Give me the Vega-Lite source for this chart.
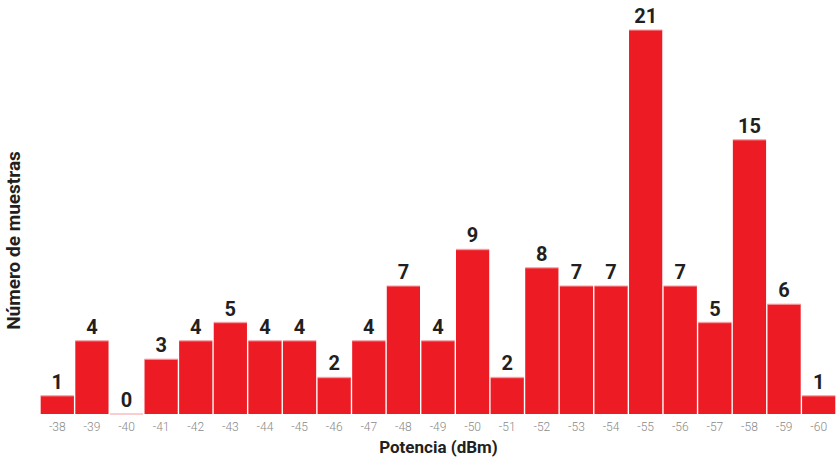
{
  "$schema": "https://vega.github.io/schema/vega-lite/v6.json",
  "autosize": "none",
  "width": 796,
  "height": 384,
  "padding": {"left": 40, "top": 30, "right": 0, "bottom": 54},
  "background": "white",
  "config": {"view": {"stroke": null}},
  "data": {"values": [
    {"dBm": -38, "n": 1}, {"dBm": -39, "n": 4}, {"dBm": -40, "n": 0}, {"dBm": -41, "n": 3},
    {"dBm": -42, "n": 4}, {"dBm": -43, "n": 5}, {"dBm": -44, "n": 4}, {"dBm": -45, "n": 4},
    {"dBm": -46, "n": 2}, {"dBm": -47, "n": 4}, {"dBm": -48, "n": 7}, {"dBm": -49, "n": 4},
    {"dBm": -50, "n": 9}, {"dBm": -51, "n": 2}, {"dBm": -52, "n": 8}, {"dBm": -53, "n": 7},
    {"dBm": -54, "n": 7}, {"dBm": -55, "n": 21}, {"dBm": -56, "n": 7}, {"dBm": -57, "n": 5},
    {"dBm": -58, "n": 15}, {"dBm": -59, "n": 6}, {"dBm": -60, "n": 1}
  ]},
  "encoding": {
    "x": {
      "field": "dBm", "type": "ordinal", "sort": "descending",
      "scale": {"paddingInner": 0.04, "paddingOuter": 0.02},
      "axis": {
        "title": "Potencia (dBm)", "titleFont": "Roboto",
        "titleFontSize": 17, "titleFontWeight": "bold", "titleColor": "#231f20", "titlePadding": 7,
        "labelAngle": 0, "labelFont": "Roboto", "labelFontWeight": 300,
        "labelFontSize": 12, "labelColor": "#8a8a8a", "labelPadding": 7,
        "domain": false, "ticks": false
      }
    }
  },
  "layer": [
    {
      "mark": {"type": "bar", "color": "#ed1c24"},
      "encoding": {
        "y": {
          "field": "n", "type": "quantitative", "scale": {"domain": [0, 21], "nice": false},
          "axis": {
            "title": "Número de muestras", "titleFont": "Roboto",
            "titleFontSize": 19, "titleFontWeight": "bold", "titleColor": "#231f20",
            "labels": false, "ticks": false, "domain": false, "grid": false,
            "titleX": -17, "titleY": 210
          }
        }
      }
    },
    {
      "mark": {"type": "tick", "color": "#f4a3a6", "thickness": 1.5, "orient": "horizontal", "bandSize": 34},
      "encoding": {"y": {"field": "n", "type": "quantitative"}}
    },
    {
      "mark": {"type": "text", "baseline": "bottom", "dy": -3, "font": "Roboto", "fontSize": 20, "fontWeight": "bold", "color": "#231f20"},
      "encoding": {
        "y": {"field": "n", "type": "quantitative"},
        "text": {"field": "n", "type": "quantitative"}
      }
    }
  ]
}
